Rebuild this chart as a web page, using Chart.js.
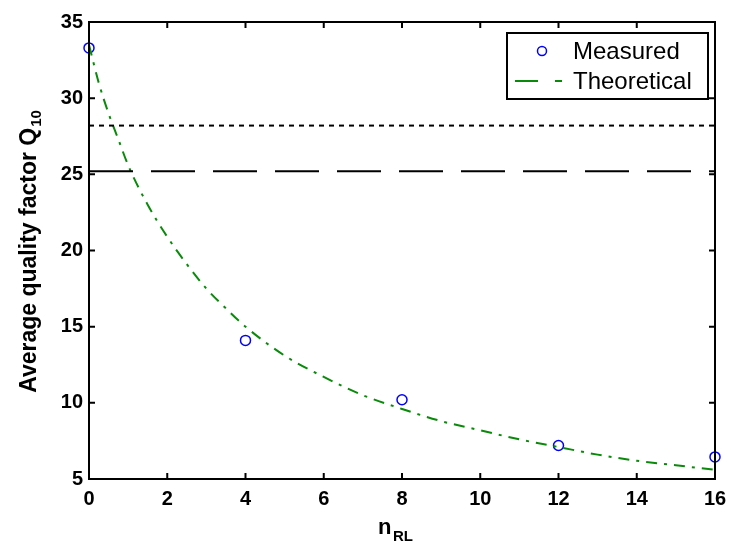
<!DOCTYPE html>
<html>
<head>
<meta charset="utf-8">
<script src="https://cdn.jsdelivr.net/npm/chart.js@4"></script>
<style>
  html, body { margin: 0; padding: 0; background: #fff; }
  #wrap { width: 731px; height: 543px; }
</style>
</head>
<body>
<div id="wrap"><canvas id="grafico"></canvas></div>
<script>
// measured points
const medidoX = [0, 4, 8, 12, 16];
const medidoY = [33.3, 14.1, 10.2, 7.2, 6.45];

// theoretical curve
const teoricoX = [0, 0.25, 0.5, 0.75, 1, 1.5, 2, 2.5, 3, 3.5, 4, 5, 6, 7, 8, 9, 10, 11, 12, 13, 14, 15, 16];
const teoricoY = [33.5, 31.0, 29.0, 27.3, 25.6, 23.0, 20.9, 19.1, 17.5, 16.2, 15.0, 13.1, 11.7, 10.5, 9.6, 8.8, 8.2, 7.6, 7.1, 6.6, 6.2, 5.9, 5.6];

// reference levels
const nivelPontilhado = 28.2;
const nivelTracejado = 25.2;
const limitesX = [0, 16];

const ticksX = [0, 2, 4, 6, 8, 10, 12, 14, 16];
const ticksY = [5, 10, 15, 20, 25, 30, 35];

const familia = "'Liberation Sans', Arial, sans-serif";

// frame, inward ticks, axis titles and legend
const molduraPlugin = {
    id: "moldura",
    afterDraw(chart) {
        const ctx = chart.ctx;
        const a = chart.chartArea;
        const sx = chart.scales.x, sy = chart.scales.y;
        ctx.save();
        ctx.strokeStyle = "#000";
        ctx.lineWidth = 2;
        ctx.strokeRect(a.left, a.top, a.right - a.left, a.bottom - a.top);
        ctx.beginPath();
        ticksX.forEach(v => {
            const px = sx.getPixelForValue(v);
            ctx.moveTo(px, a.bottom); ctx.lineTo(px, a.bottom - 6);
            ctx.moveTo(px, a.top); ctx.lineTo(px, a.top + 6);
        });
        ticksY.forEach(v => {
            const py = sy.getPixelForValue(v);
            ctx.moveTo(a.left, py); ctx.lineTo(a.left + 6, py);
            ctx.moveTo(a.right, py); ctx.lineTo(a.right - 6, py);
        });
        ctx.stroke();

        // y title
        ctx.fillStyle = "#000";
        ctx.save();
        ctx.translate(36, 252);
        ctx.rotate(-Math.PI / 2);
        ctx.font = "bold 23px " + familia;
        const tituloY = "Average quality factor Q";
        const w1 = ctx.measureText(tituloY).width;
        ctx.font = "bold 15px " + familia;
        const w2 = ctx.measureText("10").width;
        const x0 = -(w1 + w2) / 2;
        ctx.textBaseline = "alphabetic";
        ctx.font = "bold 23px " + familia;
        ctx.fillText(tituloY, x0, 0);
        ctx.font = "bold 15px " + familia;
        ctx.fillText("10", x0 + w1 + 1, 5);
        ctx.restore();

        // x title
        ctx.textBaseline = "alphabetic";
        ctx.font = "bold 22px " + familia;
        ctx.fillText("n", 378, 534);
        ctx.font = "bold 15px " + familia;
        ctx.fillText("RL", 393, 541);

        // legend
        const lx = 507, ly = 33, lw = 201, lh = 66;
        ctx.fillStyle = "#fff";
        ctx.fillRect(lx, ly, lw, lh);
        ctx.strokeStyle = "#000";
        ctx.lineWidth = 2;
        ctx.strokeRect(lx, ly, lw, lh);
        ctx.font = "24px " + familia;
        ctx.fillStyle = "#000";
        ctx.textBaseline = "middle";
        ctx.fillText("Measured", 573, 52);
        ctx.fillText("Theoretical", 573, 82);
        ctx.strokeStyle = "#0000ff";
        ctx.lineWidth = 1.5;
        ctx.beginPath();
        ctx.arc(542, 51, 4.5, 0, Math.PI * 2);
        ctx.stroke();
        ctx.strokeStyle = "#0a8a0a";
        ctx.lineWidth = 2;
        ctx.beginPath();
        ctx.moveTo(515, 81); ctx.lineTo(538, 81);
        ctx.moveTo(555, 81); ctx.lineTo(562, 81);
        ctx.stroke();
        ctx.restore();
    }
};

const ctx = document.getElementById("grafico").getContext("2d");
new Chart(ctx, {
    type: "scatter",
    data: {
        datasets: [
            {
                label: "Dotted",
                data: limitesX.map(x => ({ x, y: nivelPontilhado })),
                showLine: true,
                borderColor: "#000",
                borderWidth: 2,
                borderDash: [5, 5],
                pointRadius: 0
            },
            {
                label: "Dashed",
                data: limitesX.map(x => ({ x, y: nivelTracejado })),
                showLine: true,
                borderColor: "#000",
                borderWidth: 2,
                borderDash: [44, 18],
                pointRadius: 0
            },
            {
                label: "Theoretical",
                data: teoricoX.map((x, i) => ({ x, y: teoricoY[i] })),
                showLine: true,
                borderColor: "#0a8a0a",
                borderWidth: 2,
                borderDash: [11, 7, 3, 7],
                cubicInterpolationMode: "monotone",
                pointRadius: 0
            },
            {
                label: "Measured",
                data: medidoX.map((x, i) => ({ x, y: medidoY[i] })),
                showLine: false,
                borderColor: "#0000ff",
                backgroundColor: "rgba(0,0,0,0)",
                borderWidth: 1.5,
                pointRadius: 5,
                clip: false
            }
        ]
    },
    options: {
        responsive: true,
        maintainAspectRatio: false,
        animation: false,
        layout: { padding: { top: 22, right: 16, left: 0, bottom: 0 } },
        plugins: {
            legend: { display: false },
            tooltip: { enabled: false }
        },
        scales: {
            x: {
                type: "linear",
                min: 0,
                max: 16,
                afterBuildTicks: s => { s.ticks = ticksX.map(v => ({ value: v })); },
                afterFit: s => { s.height = 64; s.paddingLeft = 0; s.paddingRight = 0; },
                grid: { display: false, drawTicks: false },
                border: { display: false },
                ticks: { color: "#000", font: { family: familia, size: 20, weight: "bold" }, padding: 8, maxRotation: 0 }
            },
            y: {
                type: "linear",
                min: 5,
                max: 35,
                afterBuildTicks: s => { s.ticks = ticksY.map(v => ({ value: v })); },
                afterFit: s => { s.width = 89; s.paddingTop = 0; s.paddingBottom = 0; },
                grid: { display: false, drawTicks: false },
                border: { display: false },
                ticks: { color: "#000", font: { family: familia, size: 20, weight: "bold" }, padding: 6 }
            }
        }
    },
    plugins: [molduraPlugin]
});
</script>
</body>
</html>
